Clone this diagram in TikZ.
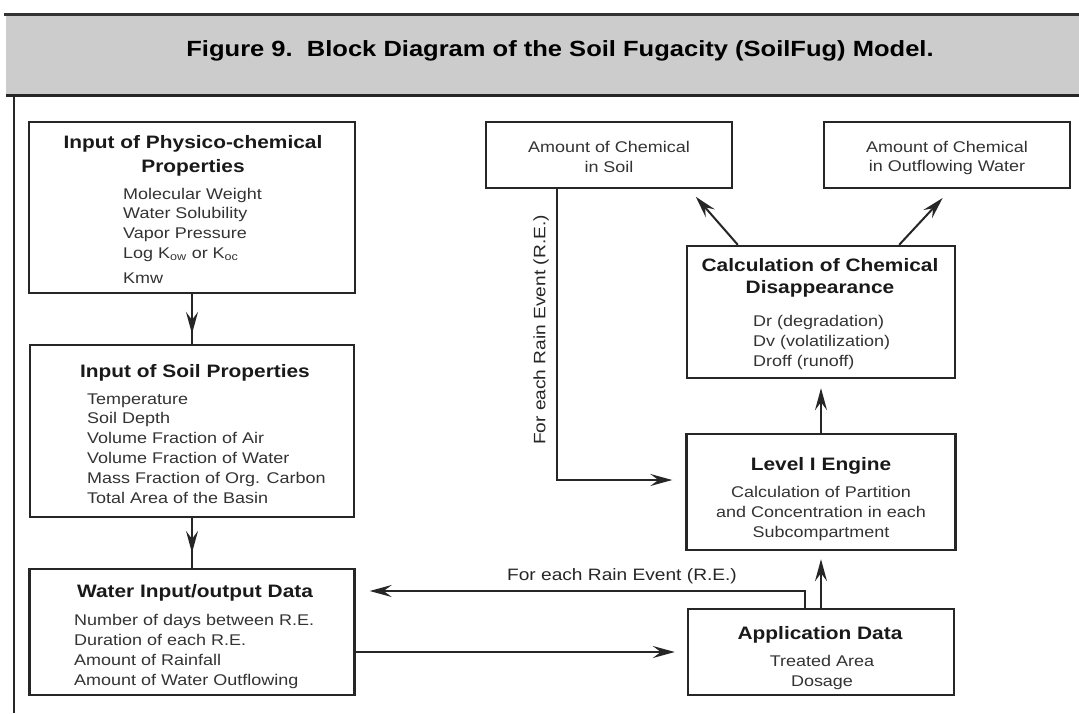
\documentclass[tikz,border=0pt]{standalone}
\usepackage{fontspec}
\setmainfont{Liberation Sans}[FakeStretch=1.16]
\usetikzlibrary{positioning,arrows.meta,calc,decorations.markings}
\tikzset{
  blk/.style ={rectangle, draw=black!85, line width=2.4pt, fill=white, inner sep=0pt},
  hd/.style  ={font=\fontsize{18}{22}\selectfont\bfseries, text=black!90, inner sep=0pt, anchor=base},
  itm/.style ={font=\fontsize{15.5}{20}\selectfont, text=black!80, inner sep=0pt, anchor=base west},
  ctr/.style ={itm, anchor=base},
  lbl/.style ={font=\fontsize{16.5}{20}\selectfont, text=black!85, inner sep=0pt},
  arr/.style ={-{Stealth[length=22pt, width=12pt, inset=8pt]}, line width=2pt, draw=black!85},
  marr/.style={line width=2pt, draw=black!85, postaction={decorate},
               decoration={markings, mark=at position #1 with {\arrow{Stealth[length=22pt, width=12pt, inset=8pt]}}}},
}

\begin{document}
\begin{tikzpicture}[x=1pt,y=-1pt]
  \useasboundingbox (0,0) rectangle (1079,713);
  \fill[black!20] (6,14) rectangle (1079,95);
  \draw[line width=3pt, black!80] (4,14) -- (1079,14);
  \draw[line width=3pt, black!85] (6,95) -- (1079,95);
  \draw[line width=2.5pt, black!85] (14,95) -- (14,713);
  \node[font=\fontsize{22}{26}\selectfont\bfseries, anchor=base, inner sep=0pt] (title) at (560,56)
    {Figure 9.\ \ Block Diagram of the Soil Fugacity (SoilFug) Model.};

  \node[blk, minimum width=326, minimum height=171] (phys)    at (192,207.5) {};
  \node[blk, minimum width=324, minimum height=172] (soil)    at (192,431) {};
  \node[blk, minimum width=325, minimum height=126] (water)   at (192,632) {};
  \node[blk, minimum width=246, minimum height=66]  (soilamt) at (609,155) {};
  \node[blk, minimum width=246, minimum height=66]  (outamt)  at (947,155) {};
  \node[blk, minimum width=268, minimum height=132] (calc)    at (821,312) {};
  \node[blk, minimum width=269, minimum height=116] (level)   at (821,492) {};
  \node[blk, minimum width=266, minimum height=86]  (app)     at (821,652) {};

  \node[hd] at (193,148) {Input of Physico-chemical};
  \node[hd] at (193,172) {Properties};
  \node[itm] at (123,199) {Molecular Weight};
  \node[itm] at (123,218) {Water Solubility};
  \node[itm] at (123,238) {Vapor Pressure};
  \node[itm] at (123,258) {Log K\textsubscript{ow} or K\textsubscript{oc}};
  \node[itm] at (123,283) {Kmw};

  \node[hd] at (195,377) {Input of Soil Properties};
  \foreach \t [count=\i from 0] in {Temperature, Soil Depth, Volume Fraction of Air,
      Volume Fraction of Water, Mass Fraction of Org. Carbon, Total Area of the Basin}
    \node[itm] at (87,404+19.8*\i) {\t};

  \node[hd] at (195,597) {Water Input/output Data};
  \foreach \t [count=\i from 0] in {Number of days between R.E., Duration of each R.E.,
      Amount of Rainfall, Amount of Water Outflowing}
    \node[itm] at (74,625+20.2*\i) {\t};

  \node[ctr] at (609,152) {Amount of Chemical};
  \node[ctr] at (609,172) {in Soil};
  \node[ctr] at (947,152) {Amount of Chemical};
  \node[ctr] at (947,171) {in Outflowing Water};

  \node[hd] at (820,271) {Calculation of Chemical};
  \node[hd] at (820,293) {Disappearance};
  \node[itm] at (753,326) {Dr (degradation)};
  \node[itm] at (753,346) {Dv (volatilization)};
  \node[itm] at (753,366) {Droff (runoff)};

  \node[hd] at (821,470) {Level I Engine};
  \node[ctr] at (821,497) {Calculation of Partition};
  \node[ctr] at (821,517) {and Concentration in each};
  \node[ctr] at (821,537) {Subcompartment};

  \node[hd] at (820,639) {Application Data};
  \node[ctr] at (822,666) {Treated Area};
  \node[ctr] at (822,686) {Dosage};

  \draw[marr=0.8] (phys) -- (soil);
  \draw[marr=0.7] (soil) -- (water);
  \draw[arr, shorten >=12pt] (water.east |- app.west) -- (app.west);
  \draw[arr, shorten >=8pt] (app) -- (level);
  \draw[arr, shorten >=9pt] (level) -- (calc);
  \draw[arr, shorten >=10pt] ($(calc.north west)+(52,0)$) -- ($(soilamt.south east)+(-44,0)$);
  \draw[arr, shorten >=12pt] ($(calc.north east)+(-57,0)$) -- ($(outamt.south west)+(128,0)$);
  \draw[arr, shorten >=13pt] ($(soilamt.south west)+(72,0)$) |- ($(level.west)+(0,-12)$);
  \draw[arr, shorten >=14pt] ($(app.north)+(-16,0)$) |- ($(water.east)+(0,-41)$);
  \node[lbl, rotate=90] (rev) at (541,330) {For each Rain Event (R.E.)};
  \node[lbl, anchor=base] (reh) at (622,580) {For each Rain Event (R.E.)};
\end{tikzpicture}
\end{document}
